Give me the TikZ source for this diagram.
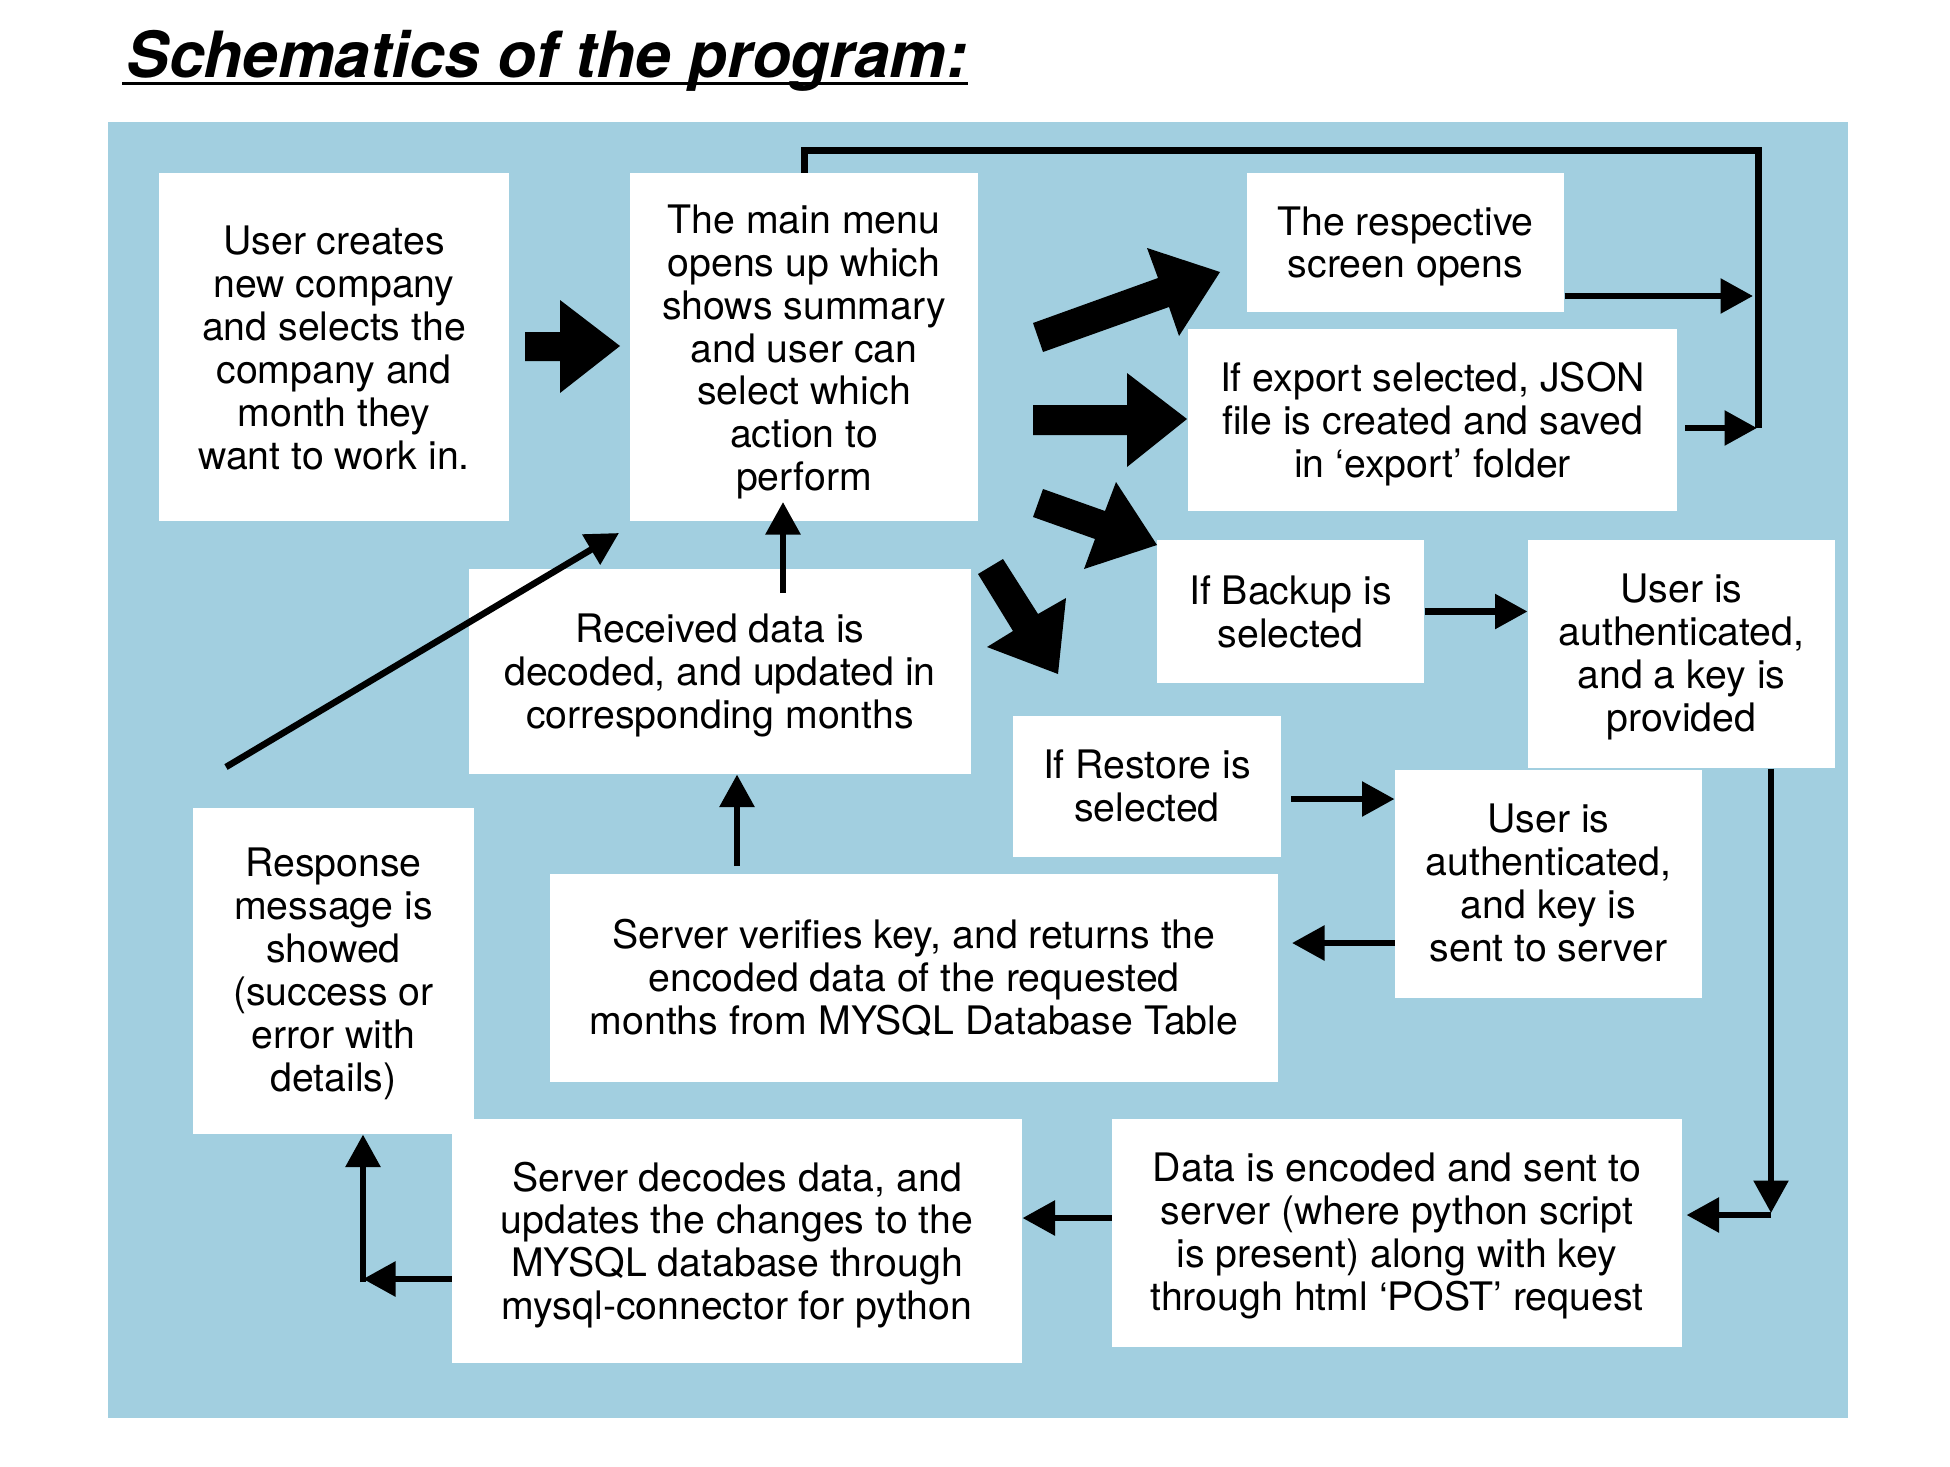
\documentclass[tikz,border=0pt]{standalone}
\usepackage{fontspec}
\setmainfont{TeX Gyre Heros}
\usetikzlibrary{arrows.meta}
\definecolor{bgblue}{RGB}{162,207,224}
\tikzset{
  box/.style={fill=white, inner sep=0pt},
  txt/.style={inner sep=0pt, align=center, font=\fontsize{15.7}{17.15}\selectfont},
  arr/.style={line width=2.6pt, -{Triangle[length=13pt,width=13.5pt]}},
  plain/.style={line width=2.8pt, line join=miter},
  block/.style={fill=black},
}
% #1 text shift (px, downward), #2 name, #3..#6 corners, #7 text
\newcommand\mybox[7][0]{\node[box, minimum width={(#5-#3)*0.4pt}, minimum height={(#6-#4)*0.4pt}] (#2) at ({(#3+#5)/2},{(#4+#6)/2}) {};
  \node[txt] (#2-text) at ({(#3+#5)/2},{(#4+#6)/2+#1}) {#7};}
\begin{document}
\begin{tikzpicture}[x=0.4pt,y=-0.4pt]
\useasboundingbox (0,0) rectangle (1950,1466);
\fill[bgblue] (108,122) rectangle (1848,1418);
% title
\node[anchor=base west, inner sep=0pt, font=\fontsize{25.5}{30}\selectfont\bfseries\itshape] (title) at (126,77) {Schematics of the program:};
\draw[line width=1.4pt] ([xshift=-1.5pt,yshift=-2.6pt]title.base west) -- ([yshift=-2.6pt]title.base east);
% boxes
\mybox[1]{user}{159}{173}{509}{521}{User creates\\new company\\and selects the\\company and\\month they\\want to work in.}
\mybox[5]{main}{630}{173}{978}{521}{The main menu\\opens up which\\shows summary\\and user can\\select which\\action to\\perform}
\mybox[4]{resp}{1247}{173}{1564}{312}{The respective\\screen opens}
\mybox[4]{export}{1188}{329}{1677}{511}{If export selected, JSON\\file is created and saved\\in ‘export’ folder}
\mybox[0]{backup}{1157}{540}{1424}{683}{If Backup is\\selected}
\mybox[3]{authA}{1528}{540}{1835}{768}{User is\\authenticated,\\and a key is\\provided}
\mybox[4]{received}{469}{569}{971}{774}{Received data is\\decoded, and updated in\\corresponding months}
\mybox[-1]{restore}{1013}{716}{1281}{857}{If Restore is\\selected}
\mybox[-1]{authB}{1395}{770}{1702}{998}{User is\\authenticated,\\and key is\\sent to server}
\mybox[0]{verify}{550}{874}{1278}{1082}{Server verifies key, and returns the\\encoded data of the requested\\months from MYSQL Database Table}
\mybox[3]{response}{193}{808}{474}{1134}{Response\\message is\\showed\\(success or\\error with\\details)}
\mybox[4]{decodes}{452}{1119}{1022}{1363}{Server decodes data, and\\updates the changes to the\\MYSQL database through\\mysql-connector for python}
\mybox[3]{data}{1112}{1119}{1682}{1347}{Data is encoded and sent to\\server (where python script\\is present) along with key\\through html ‘POST’ request}
% block arrows
\fill[block] (525,332) -- (560,332) -- (560,300) -- (620,346) -- (560,393) -- (560,361) -- (525,361) -- cycle;
\fill[block] (1033,323) -- (1158,278) -- (1147,248) -- (1220,272) -- (1179,336) -- (1169,307) -- (1043,352) -- cycle;
\fill[block] (1033,405) -- (1127,405) -- (1127,373) -- (1187,419) -- (1127,467) -- (1127,435) -- (1033,435) -- cycle;
\fill[block] (1043,489) -- (1105,511) -- (1116,482) -- (1157,545) -- (1084,569) -- (1095,539) -- (1033,517) -- cycle;
\fill[block] (1003,559) -- (1038,614) -- (1066,598) -- (1058,674) -- (987,647) -- (1013,631) -- (978,574) -- cycle;
% coordinates
\coordinate (loopTL) at (804,150);
\coordinate (loopTR) at (1758,150);
\coordinate (rTip) at (1753,296);
\coordinate (eStart) at (1685,428);
\coordinate (eTip) at (1757,428);
\coordinate (cR) at (1771,1215);
\coordinate (rsStart) at (1291,799);
\coordinate (vTip) at (1292,943);
\coordinate (vStart) at (737,866);
\coordinate (rcStart) at (783,593);
\coordinate (mTip) at (783,502);
\coordinate (cL) at (363,1279);
\coordinate (dStart) at (226,767);
\coordinate (dTip) at (619,533);
% thin connectors
\draw[plain] (main.north) -- (loopTL) -- (loopTR) -- (loopTR |- eTip);
\draw[arr] (resp.east |- rTip) -- (rTip);
\draw[arr] (eStart) -- (eTip);
\draw[arr] (backup.east) -- (authA.west |- backup.east);
\draw[arr] (authA.south -| cR) -- ([yshift=0.8pt]cR);
\draw[arr] (cR) -- ([xshift=1.6pt]data.east |- cR);
\draw[arr] (rsStart) -- (authB.west |- rsStart);
\draw[arr] (authB.west |- vTip) -- (vTip);
\draw[arr] (vStart) -- (received.south -| vStart);
\draw[arr] (rcStart) -- (mTip);
\draw[arr] (data.west |- 0,1218) -- (decodes.east |- 0,1218);
\draw[arr] (decodes.west |- cL) -- (cL);
\draw[arr] ([yshift=-1.2pt]cL) -- (response.south -| cL);
\draw[arr] (dStart) -- (dTip);
\end{tikzpicture}
\end{document}
